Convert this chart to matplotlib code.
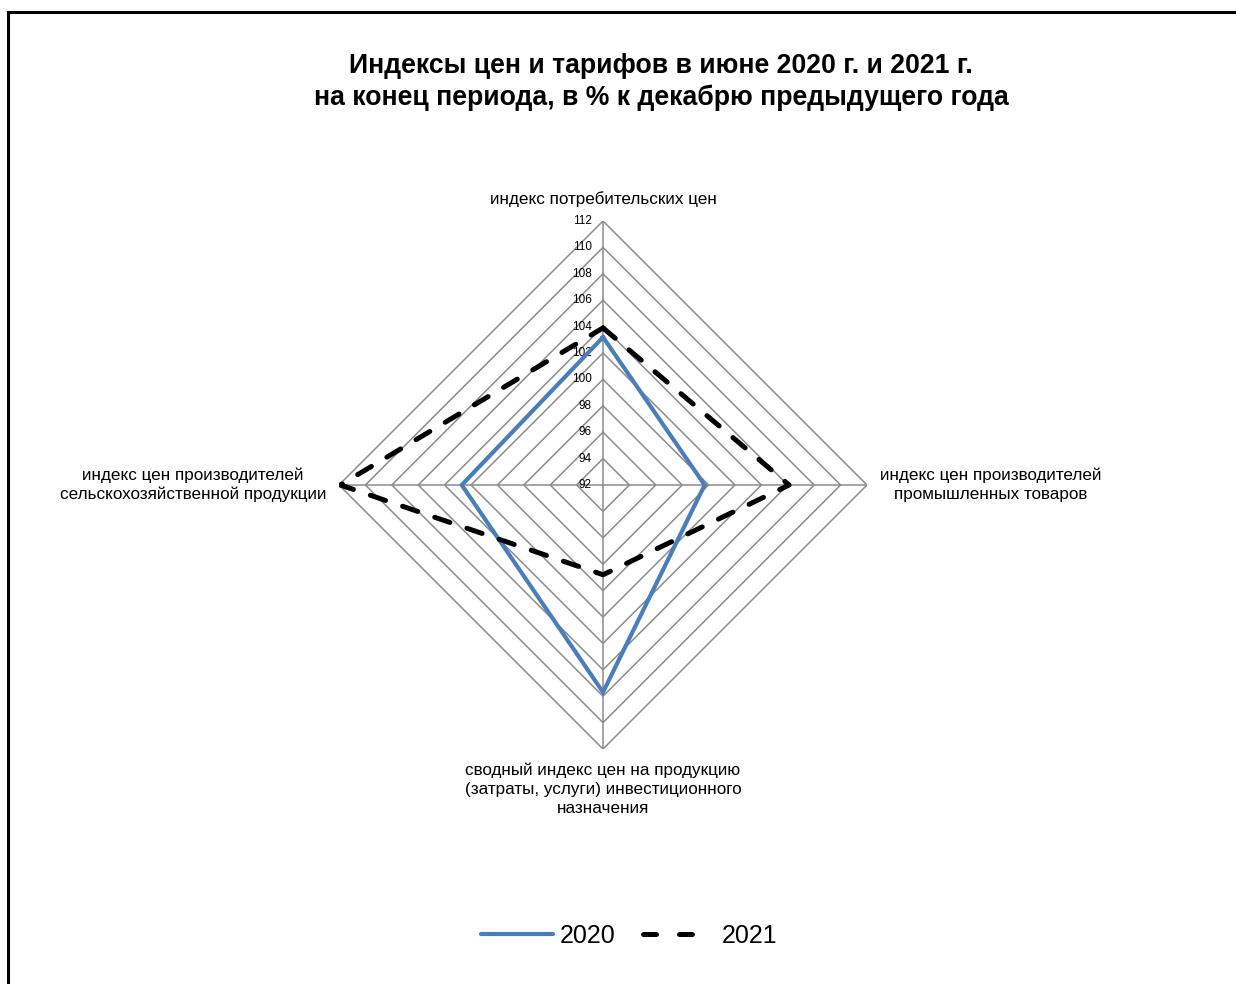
import numpy as np
import matplotlib
matplotlib.use("Agg")
import matplotlib.pyplot as plt
from matplotlib.patches import Rectangle
from matplotlib.lines import Line2D

plt.rcParams['font.family'] = ['Liberation Sans', 'DejaVu Sans']

title = "Индексы цен и тарифов в июне 2020 г. и 2021 г.\nна конец периода, в % к декабрю предыдущего года"
categories = [
    "индекс потребительских цен",
    "индекс цен производителей\nпромышленных товаров",
    "сводный индекс цен на продукцию\n(затраты, услуги) инвестиционного\nназначения",
    "индекс цен производителей\nсельскохозяйственной продукции",
]
series_names = ["2020", "2021"]
values_2020 = [103.2, 99.7, 107.7, 102.7]
values_2021 = [103.9, 106.1, 98.8, 111.9]
r_ticks = [92, 94, 96, 98, 100, 102, 104, 106, 108, 110, 112]

W, H = 1236, 984
fig = plt.figure(figsize=(W / 100, H / 100), dpi=100)

# frame
fig.patches.append(Rectangle((8 / W, -0.1), 1.2, 1.1 - 12 / H,
                             transform=fig.transFigure, fill=False,
                             edgecolor='black', linewidth=2.2))

cx, cy, R = 603, 485, 264
ax = fig.add_axes([(cx - R) / W, (H - cy - R) / H, 2 * R / W, 2 * R / H],
                  projection='polar')
ax.set_theta_zero_location('N')
ax.set_theta_direction(-1)
ax.set_rlim(r_ticks[0], r_ticks[-1])
ax.grid(False)
ax.set_xticks([])
ax.set_yticks([])
ax.spines['polar'].set_visible(False)
ax.patch.set_alpha(0)

n = len(categories)
theta = np.arange(n) * 2 * np.pi / n
theta_c = np.append(theta, theta[0])

grid_color = '#8c8c8c'
for lvl in r_ticks[1:]:
    ax.plot(theta_c, [lvl] * (n + 1), color=grid_color, lw=1.1, zorder=1)
for t in theta:
    ax.plot([t, t], [r_ticks[0], r_ticks[-1]], color=grid_color, lw=1.1, zorder=1)

for lvl in r_ticks:
    ax.annotate(str(lvl), xy=(0, lvl), xytext=(-8, 0), textcoords='offset points',
                ha='right', va='center', fontsize=8.5, zorder=2)

v20 = values_2020 + values_2020[:1]
v21 = values_2021 + values_2021[:1]
ax.plot(theta_c, v20, color='#4a7ebb', lw=3.0, solid_joinstyle='miter', zorder=3)
ax.plot(theta_c, v21, color='black', lw=3.6, dashes=(3.2, 3.6),
        dash_capstyle='round', zorder=4)

offsets = [((0, 10), 'center', 'bottom'),
           ((9, 0), 'left', 'center'),
           ((0, -10), 'center', 'top'),
           ((-9, 0), 'right', 'center')]
for t, lab, (off, ha, va) in zip(theta, categories, offsets):
    ax.annotate(lab, xy=(t, r_ticks[-1]), xytext=off, textcoords='offset points',
                ha=ha, va=va, multialignment='center', fontsize=12.3, linespacing=1.3)

fig.text(0.535, 0.9167, title, ha='center', va='center', fontsize=19.2,
         fontweight='bold', linespacing=1.3)

handles = [Line2D([], [], color='#4a7ebb', lw=3.0, solid_capstyle='round'),
           Line2D([], [], color='black', lw=3.6, dashes=(2.6, 4.6), dash_capstyle='round')]
fig.legend(handles, series_names, loc='center', bbox_to_anchor=(0.509, 0.049),
           ncol=2, frameon=False, fontsize=18, handlelength=2.9,
           handletextpad=0.25, columnspacing=1.1)

fig.savefig('out.png', dpi=100)
